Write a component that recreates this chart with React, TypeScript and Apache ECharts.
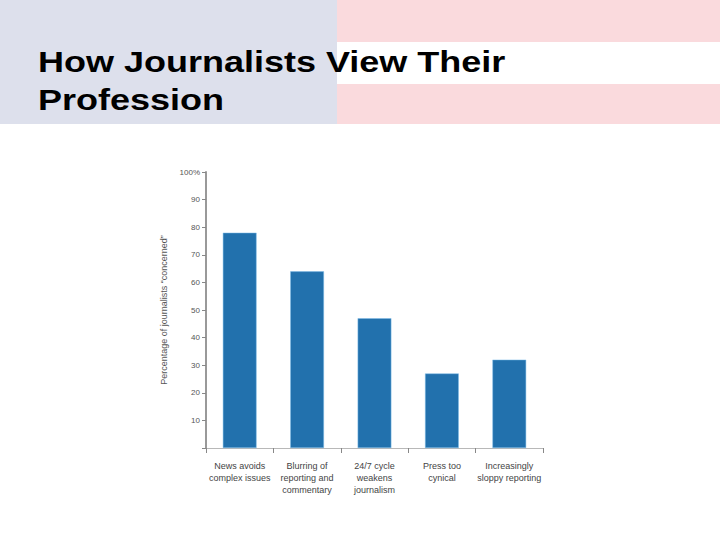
import React, { useEffect, useRef } from "react";
import * as echarts from "echarts";

const categories = [
  "News avoids\ncomplex issues",
  "Blurring of\nreporting and\ncommentary",
  "24/7 cycle\nweakens\njournalism",
  "Press too\ncynical",
  "Increasingly\nsloppy reporting",
];
const values = [78, 64, 47, 27, 32];
const titleLines = ["How Journalists View Their", "Profession"];
const yAxisName = "Percentage of journalists \u201cconcerned\u201d";

export default function App() {
  const ref = useRef<HTMLDivElement>(null);
  useEffect(() => {
    document.body.style.margin = "0";
    const chart = echarts.init(ref.current!, null, { renderer: "svg" });
    const font = "'Liberation Sans', Arial, Helvetica, sans-serif";
    chart.setOption({
      animation: false,
      backgroundColor: "#ffffff",
      graphic: [
        { type: "rect", shape: { x: 0, y: 0, width: 337, height: 124 }, style: { fill: "#dde0ec" }, z: 0 },
        { type: "rect", shape: { x: 337, y: 0, width: 383, height: 42 }, style: { fill: "#fadadd" }, z: 0 },
        { type: "rect", shape: { x: 337, y: 84, width: 383, height: 40 }, style: { fill: "#fadadd" }, z: 0 },
        {
          type: "text",
          x: 38,
          y: 43,
          scaleX: 1.2,
          z: 10,
          style: {
            text: titleLines.join("\n"),
            font: `bold 30px ${font}`,
            lineHeight: 38,
            fill: "#000000",
          },
        },
      ],
      grid: { left: 206, right: 177, top: 172, bottom: 92 },
      xAxis: {
        type: "category",
        data: categories,
        axisLine: { lineStyle: { color: "#b8b8b8", width: 1 } },
        axisTick: { show: true, length: 5, lineStyle: { color: "#888" } },
        axisLabel: {
          color: "#444",
          fontSize: 9,
          fontFamily: font,
          lineHeight: 12,
          margin: 12,
          interval: 0,
        },
      },
      yAxis: {
        type: "value",
        min: 0,
        max: 100,
        interval: 10,
        name: yAxisName,
        nameLocation: "middle",
        nameGap: 38,
        nameTextStyle: { color: "#555", fontSize: 9, fontFamily: font },
        axisLine: { show: true, lineStyle: { color: "#999", width: 2 } },
        axisTick: { show: true, length: 4, lineStyle: { color: "#888" } },
        splitLine: { show: false },
        axisLabel: {
          color: "#555",
          fontSize: 8,
          fontFamily: font,
          margin: 6,
          formatter: (v: number) => (v === 0 ? "" : v === 100 ? "100%" : String(v)),
        },
      },
      series: [
        {
          type: "bar",
          data: values,
          barWidth: "50%",
          itemStyle: { color: "#2271ad", borderColor: "#7fbde8", borderWidth: 0.5 },
        },
      ],
    });
    return () => chart.dispose();
  }, []);
  return (
    <div
      ref={ref}
      style={{ position: "absolute", left: 0, top: 0, width: 720, height: 540 }}
    />
  );
}
